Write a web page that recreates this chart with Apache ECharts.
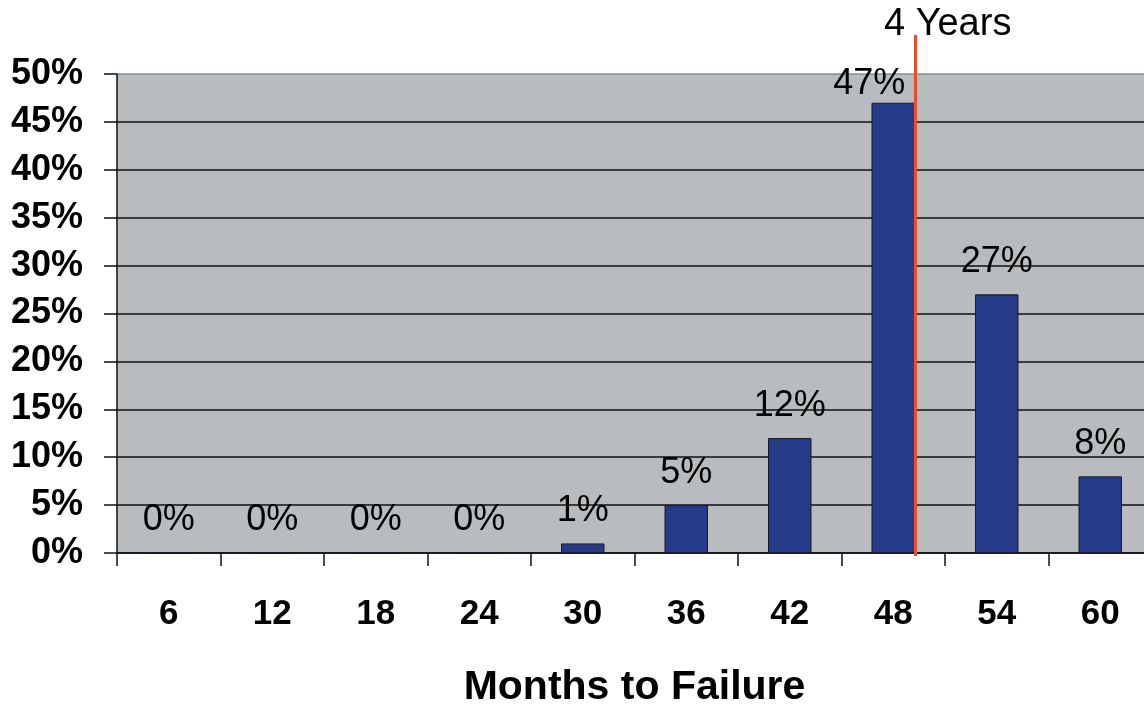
<!DOCTYPE html>
<html>
<head>
<meta charset="utf-8">
<script src="https://cdn.jsdelivr.net/npm/echarts@6/dist/echarts.min.js"></script>
<style>
  html, body { margin: 0; padding: 0; background: #fff; }
  #chart { width: 1144px; height: 704px; }
</style>
</head>
<body>
<div id="chart"></div>
<script>
// months to failure (category labels)
var months = ['6', '12', '18', '24', '30', '36', '42', '48', '54', '60'];
// share of failures, percent
var failurePct = [0, 0, 0, 0, 1, 5, 12, 47, 27, 8];
// y ticks
var yMin = 0, yMax = 50, yStep = 5;
// "4 Years" marker, in months on the hidden helper axis (drawn at right edge of 48 bar)
var markerMonth = 49.3;
var markerText = '4 Years';
var axisName = 'Months to Failure';

var FONT = 'Arial, "Liberation Sans", sans-serif';

var chart = echarts.init(document.getElementById('chart'), null, { renderer: 'canvas' });

// the tallest bar sits right under the top edge, its label goes lower and left of the red line
var barData = failurePct.map(function (v) {
    if (v >= 45) {
        return { value: v, label: { distance: 1, offset: [-24, 0] } };
    }
    return v;
});

var option = {
    backgroundColor: '#ffffff',
    animation: false,
    grid: [
        {
            // plot runs a little past the right edge of the picture
            left: 117, width: 1035, top: 74, bottom: 151,
            outerBoundsMode: 'none',
            show: true,
            backgroundColor: '#b8bcbf',
            borderWidth: 0
        },
        {
            left: 117, width: 1035, top: 35, bottom: 148,
            outerBoundsMode: 'none',
            show: false
        }
    ],
    xAxis: [
        {
            type: 'category',
            gridIndex: 0,
            data: months,
            name: axisName,
            nameLocation: 'middle',
            nameGap: 114,
            nameTextStyle: { fontFamily: FONT, fontSize: 41, fontWeight: 'bold', color: '#000' },
            axisLine: { show: true, lineStyle: { color: '#111', width: 1.5 } },
            axisTick: { show: true, length: 13, lineStyle: { color: '#111', width: 1.5 } },
            axisLabel: { margin: 44, fontFamily: FONT, fontSize: 35, fontWeight: 'bold', color: '#000' },
            splitLine: { show: false }
        },
        {
            type: 'value',
            gridIndex: 1,
            min: 3,
            max: 63,
            show: false
        }
    ],
    yAxis: [
        {
            type: 'value',
            gridIndex: 0,
            min: yMin,
            max: yMax,
            interval: yStep,
            axisLine: { show: true, lineStyle: { color: '#111', width: 1.5 } },
            axisTick: { show: true, length: 13, lineStyle: { color: '#111', width: 1.5 } },
            axisLabel: {
                margin: 34,
                fontFamily: FONT, fontSize: 36, fontWeight: 'bold', color: '#000',
                formatter: '{value}%'
            },
            splitLine: {
                show: true,
                lineStyle: {
                    color: ['#111', '#111', '#111', '#111', '#111', '#111', '#111', '#111', '#111', '#111', '#8a8d90'],
                    width: 1.5
                }
            }
        },
        {
            type: 'value',
            gridIndex: 1,
            min: 0,
            max: 1,
            show: false
        }
    ],
    series: [
        {
            type: 'bar',
            xAxisIndex: 0,
            yAxisIndex: 0,
            data: barData,
            barWidth: '42%',
            itemStyle: { color: '#263a8a', borderColor: '#1a1a2a', borderWidth: 1 },
            label: {
                show: true,
                position: 'top',
                distance: 14,
                formatter: '{c}%',
                fontFamily: FONT,
                fontSize: 36,
                color: '#000'
            }
        },
        {
            type: 'line',
            xAxisIndex: 1,
            yAxisIndex: 1,
            data: [],
            markLine: {
                silent: true,
                symbol: 'none',
                animation: false,
                lineStyle: { color: '#ee4b2b', width: 3, type: 'solid' },
                label: {
                    show: true,
                    position: 'end',
                    distance: -9,
                    padding: [0, 0, 0, 64],
                    formatter: markerText,
                    fontFamily: FONT,
                    fontSize: 38,
                    color: '#000'
                },
                data: [{ xAxis: markerMonth }]
            }
        }
    ]
};

chart.setOption(option);
</script>
</body>
</html>
